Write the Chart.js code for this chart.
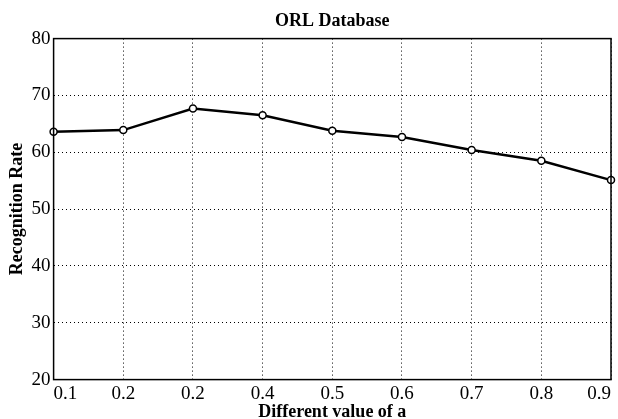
<!DOCTYPE html>
<html lang="en">
<head>
    <meta charset="UTF-8">
    <title>ORL Database</title>
    <script src="https://cdn.jsdelivr.net/npm/chart.js"></script>
    <style>
        html, body { margin:0; padding:0; background:#fff; }
        #wrap { width:618px; height:419px; }
    </style>
</head>
<body>
    <div id="wrap"><canvas id="myChart"></canvas></div>

    <script>
        // data
        const labels = ['0.1', '0.2', '0.2', '0.4', '0.5', '0.6', '0.7', '0.8', '0.9'];
        const rates = [63.6, 63.9, 67.7, 66.5, 63.8, 62.7, 60.4, 58.5, 55.1];
        const yTicks = [20, 30, 40, 50, 60, 70, 80];

        const serif = 'Liberation Serif';

        // black box around the plot area
        const frame = {
            id: 'frame',
            afterDraw(chart) {
                const a = chart.chartArea, c = chart.ctx;
                c.save();
                c.strokeStyle = '#000';
                c.lineWidth = 1.5;
                c.strokeRect(a.left, a.top, a.right - a.left, a.bottom - a.top);
                c.restore();
            }
        };

        const ctx = document.querySelector('#myChart').getContext('2d');
        new Chart(ctx, {
            type: 'line',
            data: {
                labels: labels,
                datasets: [{
                    data: rates,
                    borderColor: '#000',
                    borderWidth: 2.5,
                    pointRadius: 3.5,
                    pointBorderWidth: 1.5,
                    pointBackgroundColor: '#fff',
                    pointBorderColor: '#000',
                    tension: 0
                }]
            },
            options: {
                responsive: true,
                maintainAspectRatio: false,
                animation: false,
                layout: { padding: { left: 7, right: 7, top: 11, bottom: 0 } },
                plugins: {
                    legend: { display: false },
                    tooltip: { enabled: false },
                    title: {
                        display: true,
                        fullSize: false,
                        text: 'ORL Database',
                        color: '#000',
                        font: { family: serif, size: 18, weight: 'bold' },
                        padding: { top: 0, bottom: 6 }
                    }
                },
                scales: {
                    x: {
                        offset: false,
                        grid: { color: '#000', lineWidth: 1, drawTicks: false },
                        border: { display: false, dash: [1, 3] },
                        ticks: {
                            color: '#000',
                            padding: 3,
                            maxRotation: 0,
                            align: 'inner',
                            font: { family: serif, size: 19 }
                        },
                        title: {
                            display: true,
                            text: 'Different value of a',
                            color: '#000',
                            padding: { top: -7, bottom: -4 },
                            font: { family: serif, size: 18, weight: 'bold' }
                        }
                    },
                    y: {
                        min: 20,
                        max: 80,
                        afterBuildTicks: axis => { axis.ticks = yTicks.map(v => ({ value: v })); },
                        grid: { color: '#000', lineWidth: 1, drawTicks: false },
                        border: { display: false, dash: [1, 3] },
                        ticks: {
                            color: '#000',
                            padding: 3,
                            font: { family: serif, size: 19 }
                        },
                        title: {
                            display: true,
                            text: 'Recognition Rate',
                            color: '#000',
                            padding: { top: 0, bottom: 0 },
                            font: { family: serif, size: 18, weight: 'bold' }
                        }
                    }
                }
            },
            plugins: [frame]
        });
    </script>
</body>
</html>
